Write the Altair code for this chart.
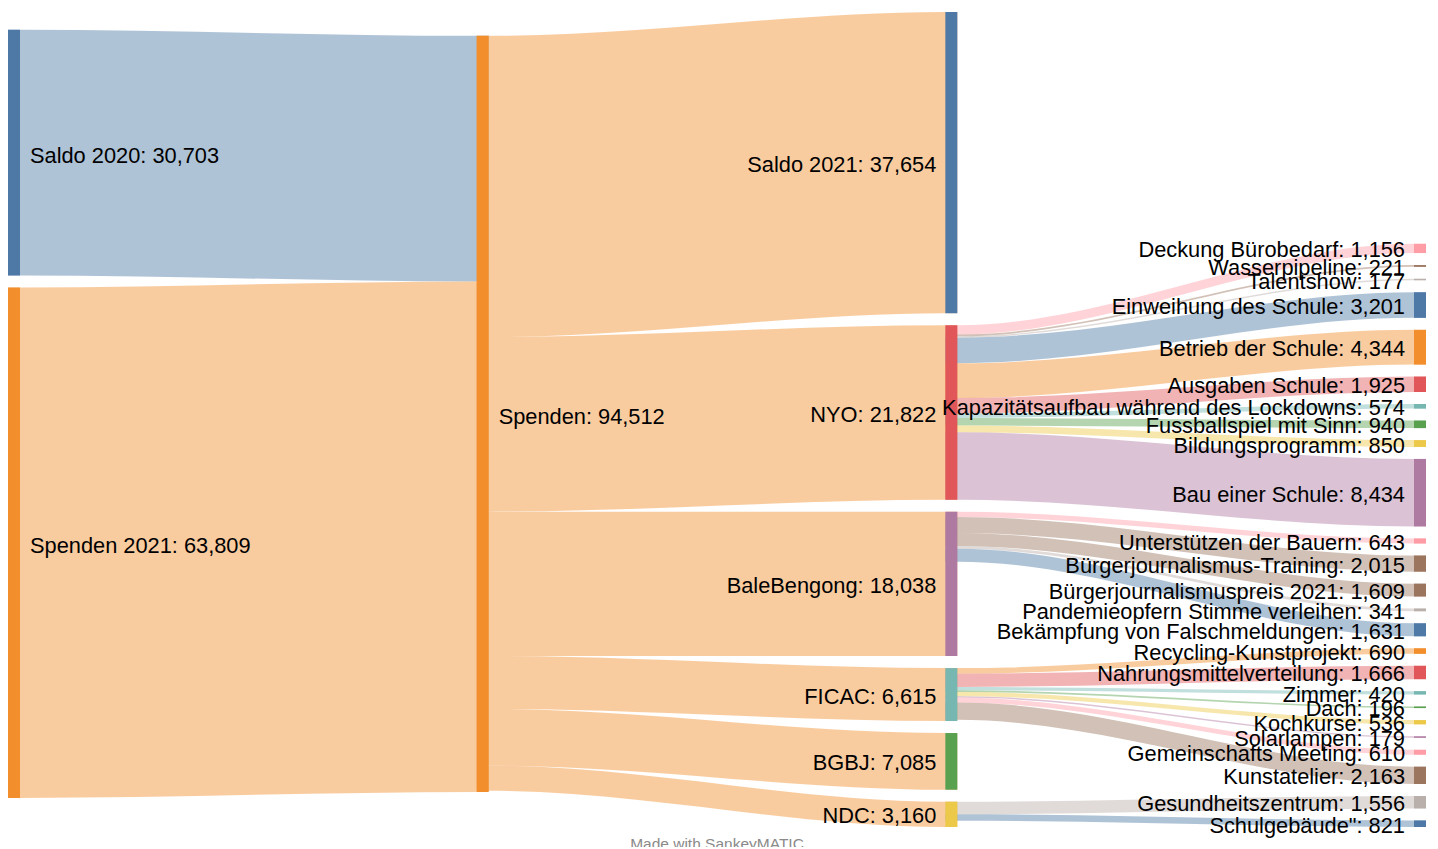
import altair as alt
import pandas as pd

# ---------------- data ----------------
link_sources = [
    "Saldo 2020", "Spenden 2021",
    "Spenden", "Spenden", "Spenden", "Spenden", "Spenden", "Spenden",
    "NYO", "NYO", "NYO", "NYO", "NYO", "NYO", "NYO", "NYO", "NYO", "NYO",
    "BaleBengong", "BaleBengong", "BaleBengong", "BaleBengong", "BaleBengong",
    "FICAC", "FICAC", "FICAC", "FICAC", "FICAC", "FICAC", "FICAC", "FICAC",
    "NDC", "NDC",
]
link_targets = [
    "Spenden", "Spenden",
    "Saldo 2021", "NYO", "BaleBengong", "FICAC", "BGBJ", "NDC",
    "Deckung Bürobedarf", "Wasserpipeline", "Talentshow", "Einweihung des Schule",
    "Betrieb der Schule", "Ausgaben Schule", "Kapazitätsaufbau während des Lockdowns",
    "Fussballspiel mit Sinn", "Bildungsprogramm", "Bau einer Schule",
    "Unterstützen der Bauern", "Bürgerjournalismus-Training", "Bürgerjournalismuspreis 2021",
    "Pandemieopfern Stimme verleihen", "Bekämpfung von Falschmeldungen",
    "Recycling-Kunstprojekt", "Nahrungsmittelverteilung", "Zimmer", "Dach", "Kochkurse",
    "Solarlampen", "Gemeinschafts Meeting", "Kunstatelier",
    "Gesundheitszentrum", "Schulgebäude\"",
]
link_values = [
    30703, 63809,
    37654, 21822, 18038, 6615, 7085, 3160,
    1156, 221, 177, 3201, 4344, 1925, 574, 940, 850, 8434,
    643, 2015, 1609, 341, 1631,
    690, 1666, 420, 196, 536, 179, 610, 2163,
    1556, 821,
]

node_names = [
    "Saldo 2020", "Spenden 2021", "Spenden",
    "Saldo 2021", "NYO", "BaleBengong", "FICAC", "BGBJ", "NDC",
    "Deckung Bürobedarf", "Wasserpipeline", "Talentshow", "Einweihung des Schule",
    "Betrieb der Schule", "Ausgaben Schule", "Kapazitätsaufbau während des Lockdowns",
    "Fussballspiel mit Sinn", "Bildungsprogramm", "Bau einer Schule",
    "Unterstützen der Bauern", "Bürgerjournalismus-Training", "Bürgerjournalismuspreis 2021",
    "Pandemieopfern Stimme verleihen", "Bekämpfung von Falschmeldungen",
    "Recycling-Kunstprojekt", "Nahrungsmittelverteilung", "Zimmer", "Dach", "Kochkurse",
    "Solarlampen", "Gemeinschafts Meeting", "Kunstatelier",
    "Gesundheitszentrum", "Schulgebäude\"",
]
node_colors = [
    "#4e79a7", "#f28e2c", "#f28e2c",
    "#4e79a7", "#e15759", "#af7aa1", "#76b7b2", "#59a14f", "#edc949",
    "#ff9da7", "#9c755f", "#bab0ab", "#4e79a7",
    "#f28e2c", "#e15759", "#76b7b2",
    "#59a14f", "#edc949", "#af7aa1",
    "#ff9da7", "#9c755f", "#9c755f",
    "#bab0ab", "#4e79a7",
    "#f28e2c", "#e15759", "#76b7b2", "#59a14f", "#edc949",
    "#af7aa1", "#ff9da7", "#9c755f",
    "#bab0ab", "#4e79a7",
]

# ---------------- layout parameters ----------------
GAP = 1500            # vertical gap between nodes, in value units
NODE_W = 0.0256       # node width in column units
COL_ALIGN = ["center", "center", "top", "bottom"]
CENTER_SHIFT = 700    # small upward shift for centred columns (value units)
LINK_OPACITY = 0.45
FONT = "Liberation Sans, Arial, Helvetica, sans-serif"
FONT_SIZE = 21.8
PLOT_W, PLOT_H = 1418, 815

# ---------------- sankey layout ----------------
color_of = dict(zip(node_names, node_colors))
inflow = {n: 0 for n in node_names}
outflow = {n: 0 for n in node_names}
for s, t, v in zip(link_sources, link_targets, link_values):
    outflow[s] += v
    inflow[t] += v
node_value = {n: max(inflow[n], outflow[n]) for n in node_names}

col = {}
for n in node_names:
    if inflow[n] == 0:
        col[n] = 0
changed = True
while changed:
    changed = False
    for s, t in zip(link_sources, link_targets):
        if s in col and col.get(t, -1) < col[s] + 1:
            col[t] = col[s] + 1
            changed = True
ncols = max(col.values()) + 1
col_nodes = [[n for n in node_names if col[n] == c] for c in range(ncols)]
col_total = [sum(node_value[n] for n in ns) + GAP * (len(ns) - 1) for ns in col_nodes]
H = max(col_total)

y0 = {}
for c, ns in enumerate(col_nodes):
    if COL_ALIGN[c] == "bottom":
        pos = H - col_total[c]
    elif COL_ALIGN[c] == "center":
        pos = (H - col_total[c]) / 2 - CENTER_SHIFT
    else:
        pos = 0
    for n in ns:
        y0[n] = pos
        pos += node_value[n] + GAP

nodes = pd.DataFrame({
    "name": node_names,
    "col": [col[n] for n in node_names],
    "x0": [col[n] for n in node_names],
    "x1": [col[n] + NODE_W for n in node_names],
    "y0": [y0[n] for n in node_names],
    "y1": [y0[n] + node_value[n] for n in node_names],
    "ym": [y0[n] + node_value[n] / 2 for n in node_names],
    "color": node_colors,
    "label": [f"{n}: {node_value[n]:,}" for n in node_names],
})

# link stacking
links = list(zip(link_sources, link_targets, link_values))
out_cursor = {n: y0[n] for n in node_names}
in_cursor = {n: y0[n] for n in node_names}
src_pos, tgt_pos = {}, {}
for i in sorted(range(len(links)), key=lambda k: (node_names.index(links[k][0]), y0[links[k][1]])):
    s, t, v = links[i]
    src_pos[i] = out_cursor[s]
    out_cursor[s] += v
for i in sorted(range(len(links)), key=lambda k: (node_names.index(links[k][1]), y0[links[k][0]])):
    s, t, v = links[i]
    tgt_pos[i] = in_cursor[t]
    in_cursor[t] += v

rows = []
for i, (s, t, v) in enumerate(links):
    lc = color_of[s] if col[s] < 2 else color_of[t]
    cs, ct = col[s], col[t]
    for x, yt in [(cs, src_pos[i]), (cs + NODE_W, src_pos[i]),
                  (ct, tgt_pos[i]), (ct + NODE_W, tgt_pos[i])]:
        rows.append({"link": i, "x": x, "ya": yt, "yb": yt + v, "color": lc})
link_df = pd.DataFrame(rows)

xs = alt.Scale(domain=[0, ncols - 1 + NODE_W], nice=False, zero=False)
ys = alt.Scale(domain=[0, H], reverse=True, nice=False, zero=False)

link_layer = alt.Chart(link_df).mark_area(
    interpolate="monotone", opacity=LINK_OPACITY
).encode(
    x=alt.X("x:Q", scale=xs, axis=None),
    y=alt.Y("ya:Q", scale=ys, axis=None),
    y2="yb:Q",
    detail="link:N",
    color=alt.Color("color:N", scale=None),
)

node_layer = alt.Chart(nodes).mark_rect(opacity=1).encode(
    x=alt.X("x0:Q", scale=xs, axis=None),
    x2="x1:Q",
    y=alt.Y("y0:Q", scale=ys, axis=None),
    y2="y1:Q",
    color=alt.Color("color:N", scale=None),
)

left_labels = alt.Chart(nodes).transform_filter("datum.col < 2").mark_text(
    align="left", baseline="middle", dx=10, dy=3, font=FONT, fontSize=FONT_SIZE, color="#000000"
).encode(
    x=alt.X("x1:Q", scale=xs, axis=None),
    y=alt.Y("ym:Q", scale=ys, axis=None),
    text="label:N",
)
right_labels = alt.Chart(nodes).transform_filter("datum.col >= 2").mark_text(
    align="right", baseline="middle", dx=-9, dy=2, font=FONT, fontSize=FONT_SIZE, color="#000000"
).encode(
    x=alt.X("x0:Q", scale=xs, axis=None),
    y=alt.Y("ym:Q", scale=ys, axis=None),
    text="label:N",
)

footer = alt.Chart(pd.DataFrame({"t": ["Made with SankeyMATIC"]})).mark_text(
    align="center", baseline="middle", font=FONT, fontSize=15.5, color="#8a8a8a"
).encode(
    x=alt.value(PLOT_W / 2),
    y=alt.value(PLOT_H + 17),
    text="t:N",
)

chart = alt.layer(link_layer, node_layer, left_labels, right_labels, footer).properties(
    width=PLOT_W, height=PLOT_H,
    autosize=alt.AutoSizeParams(type="none"),
    padding={"left": 0, "top": 4, "right": 4, "bottom": 20},
).configure_view(stroke=None)

chart.save("out.html", embed_options={"renderer": "svg", "actions": False})
